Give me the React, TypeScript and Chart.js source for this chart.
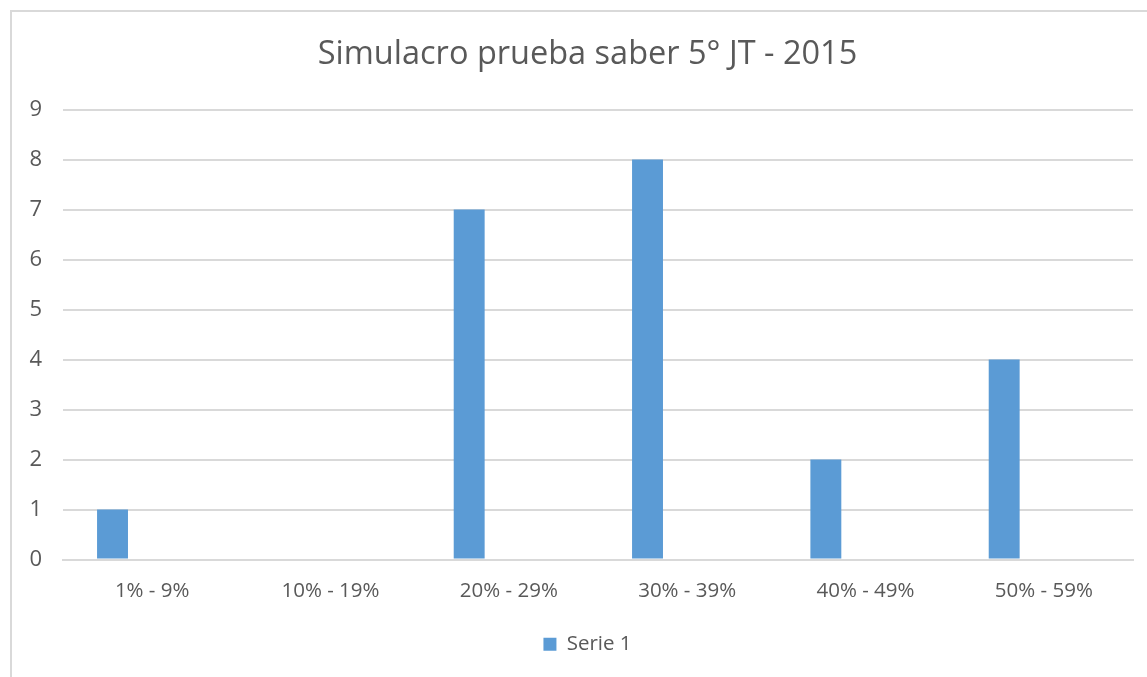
import React, { useEffect, useRef } from "react";
import { Chart, registerables } from "chart.js";

Chart.register(...registerables);

const categories = ["1% - 9%", "10% - 19%", "20% - 29%", "30% - 39%", "40% - 49%", "50% - 59%"];
const serie1 = [1, 0, 7, 8, 2, 4];
const serie2: (number | null)[] = [null, null, null, null, null, null];
const serie3: (number | null)[] = [null, null, null, null, null, null];
const yTicks = [0, 1, 2, 3, 4, 5, 6, 7, 8, 9];
const titleText = "Simulacro prueba saber 5° JT - 2015";

const FONT = "'Open Sans', sans-serif";
const TEXT = "#595959";
const GRID = "#d9d9d9";
const BAR = "#5b9bd5";

const borderPlugin = {
  id: "frameBorder",
  beforeDraw(chart: any) {
    const ctx = chart.ctx;
    ctx.save();
    ctx.strokeStyle = GRID;
    ctx.lineWidth = 2;
    ctx.beginPath();
    ctx.moveTo(11, chart.height);
    ctx.lineTo(11, 11);
    ctx.lineTo(chart.width, 11);
    ctx.stroke();
    ctx.restore();
  },
};

export default function App() {
  const ref = useRef<HTMLCanvasElement | null>(null);
  useEffect(() => {
    if (!ref.current) return;
    const chart = new Chart(ref.current, {
      type: "bar",
      data: {
        labels: categories,
        datasets: [
          { label: "Serie 1", data: serie1, backgroundColor: BAR, categoryPercentage: 0.667, barPercentage: 0.78 },
          { label: "Serie 2", data: serie2, backgroundColor: BAR, categoryPercentage: 0.667, barPercentage: 0.78 },
          { label: "Serie 3", data: serie3, backgroundColor: BAR, categoryPercentage: 0.667, barPercentage: 0.78 },
        ],
      },
      options: {
        responsive: false,
        animation: false,
        layout: { padding: { left: 0, right: 0, top: 0, bottom: 12.5 } },
        plugins: {
          tooltip: { enabled: false },
          title: {
            display: true,
            text: titleText,
            color: TEXT,
            font: { family: FONT, size: 32.5, weight: "normal" },
            padding: { top: 35, bottom: 35.5 },
          },
          legend: {
            display: true,
            position: "bottom",
            labels: {
              filter: (item: any) => item.datasetIndex === 0,
              color: TEXT,
              font: { family: FONT, size: 20.5 },
              boxWidth: 13,
              boxHeight: 13,
              padding: 14.5,
            },
          },
        },
        scales: {
          x: {
            afterFit: (s: any) => { s.height = 60; },
            grid: { display: false, drawTicks: false },
            border: { display: true, color: GRID, width: 2 },
            ticks: { color: TEXT, font: { family: FONT, size: 20.5 }, padding: 19.5, maxRotation: 0 },
          },
          y: {
            min: 0,
            max: 9,
            afterFit: (s: any) => { s.width = 63; },
            afterBuildTicks: (s: any) => { s.ticks = yTicks.map((v) => ({ value: v })); },
            grid: { color: GRID, lineWidth: 2, drawTicks: false },
            border: { display: false },
            ticks: { color: TEXT, font: { family: FONT, size: 22 }, padding: 21 },
          },
          yPad: {
            type: "linear",
            position: "right",
            display: true,
            afterFit: (s: any) => { s.width = 42; },
            grid: { display: false, drawTicks: false },
            border: { display: false },
            ticks: { display: false },
          },
        },
      },
      plugins: [borderPlugin],
    });
    return () => chart.destroy();
  }, []);
  return (
    <div style={{ position: "fixed", left: 0, top: 0, width: 1147, height: 677, overflow: "hidden", background: "#fff" }}>
      <canvas ref={ref} width={1175} height={677} style={{ width: 1175, height: 677, display: "block" }} />
    </div>
  );
}
